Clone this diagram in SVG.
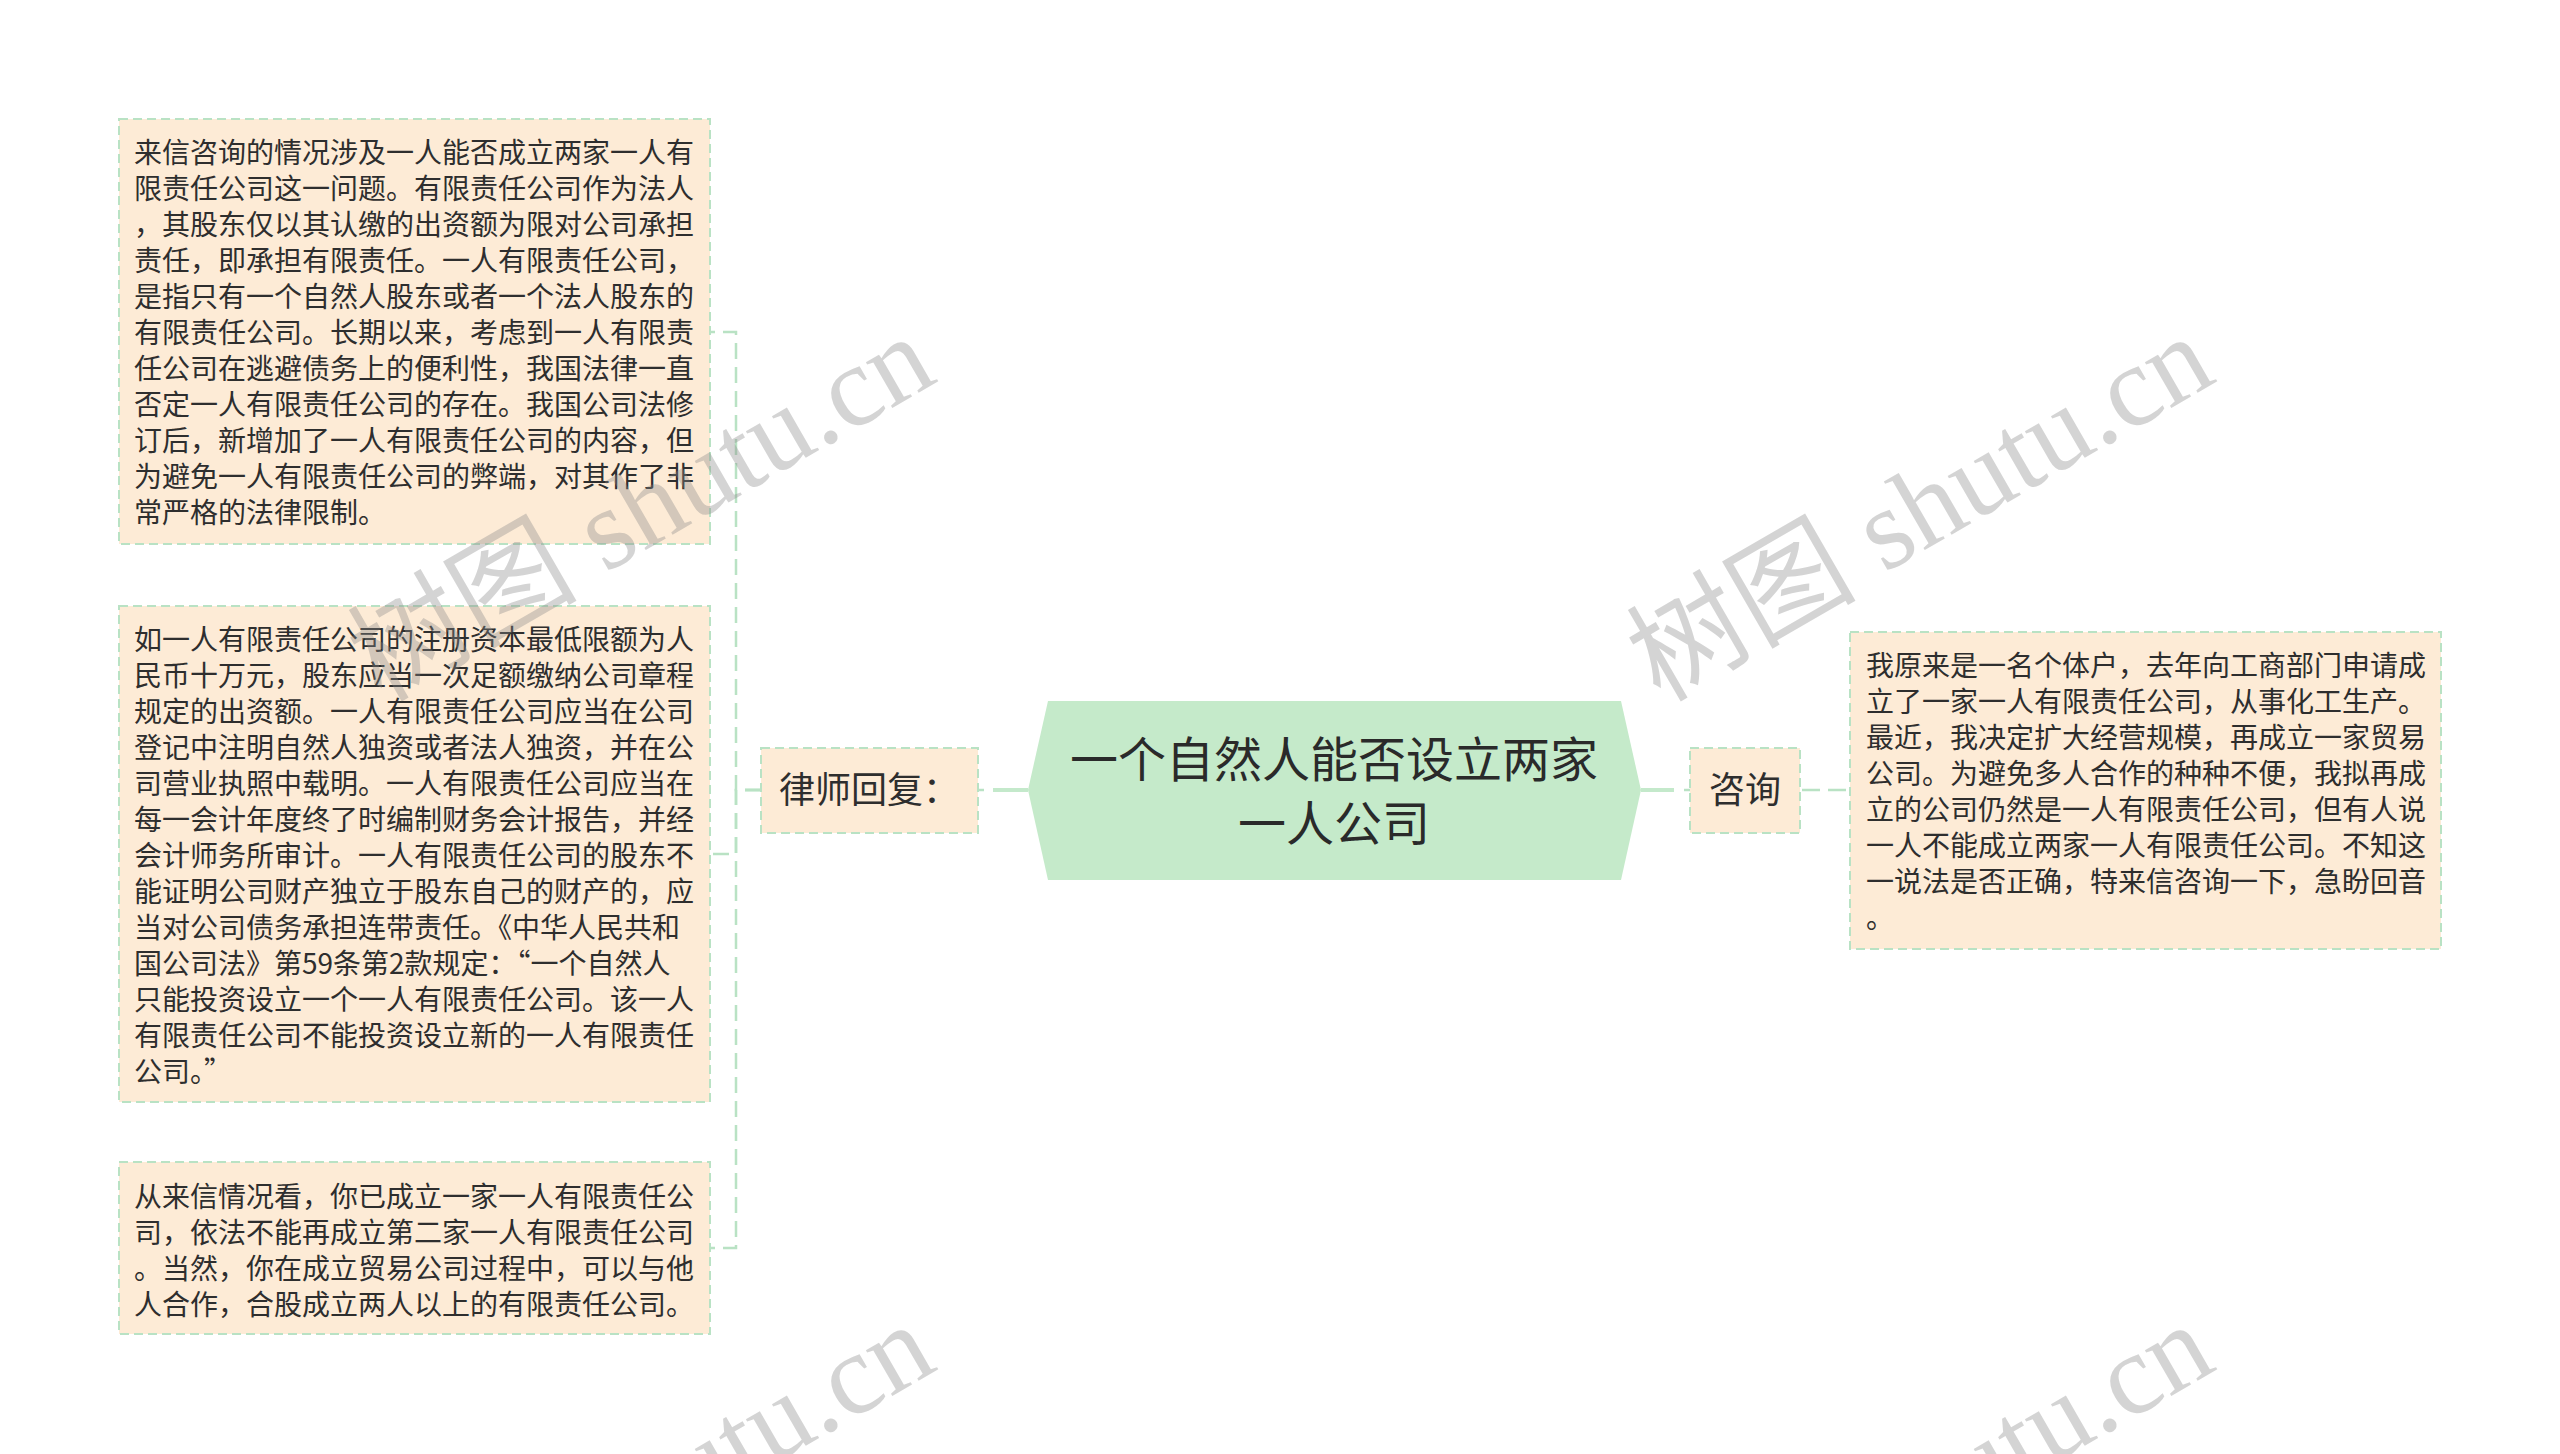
<svg xmlns="http://www.w3.org/2000/svg" width="2560" height="1454" viewBox="0 0 2560 1454">
<style>
.box{fill:#fdebd6;stroke:#b9e2c4;stroke-width:2;stroke-dasharray:9 5}
.txt{font-family:"Noto Sans CJK SC","Noto Sans",sans-serif;font-size:28px;fill:#2e2e2e}
.lbl{font-family:"Noto Sans CJK SC","Noto Sans",sans-serif;font-size:36px;fill:#2e2e2e}
.ctr{font-family:"Noto Sans CJK SC","Noto Sans",sans-serif;font-size:48px;fill:#2a2a2a;text-anchor:middle}
.dash{fill:none;stroke:#b9e2c4;stroke-width:2.5;stroke-dasharray:16 8}
.solid{fill:none;stroke:#c4e9cb;stroke-width:4}
.wm{font-family:"Liberation Serif","Noto Sans CJK SC",serif;font-size:115px;fill:#888;fill-opacity:0.36}
</style>
<rect width="2560" height="1454" fill="#ffffff"/>
<g id="connectors">
<path class="dash" d="M761 790 H736 V332 H710"/>
<path class="dash" d="M761 790 H736 V854 H710"/>
<path class="dash" d="M761 790 H736 V1248 H710"/>
<line class="solid" x1="1028" y1="790" x2="993" y2="790"/>
<line class="dash" x1="984" y1="790" x2="978" y2="790"/>
<line class="solid" x1="1641" y1="790" x2="1674" y2="790"/>
<line class="dash" x1="1684" y1="790" x2="1690" y2="790"/>
<path class="dash" d="M1800 790 H1850" style="stroke-dasharray:18 8;stroke-dashoffset:-2"/>
</g>
<g id="node-center">
<polygon points="1028,790 1048,701 1621,701 1641,790 1621,880 1048,880" fill="#c5eaca"/>
<text class="ctr" x="1334" y="777">一个自然人能否设立两家</text>
<text class="ctr" x="1334" y="841">一人公司</text>
</g>
<g id="node-lawyer">
<rect class="box" x="761" y="748" width="217" height="85"/>
<text class="lbl" x="779" y="803">律师回复：</text>
</g>
<g id="node-consult">
<rect class="box" x="1690" y="748" width="110" height="85"/>
<text class="lbl" x="1745" y="803" text-anchor="middle">咨询</text>
</g>
<g id="node-q">
<rect class="box" x="1850" y="632" width="591" height="317"/>
<text class="txt" x="1866" y="676">
<tspan x="1866" dy="0">我原来是一名个体户，去年向工商部门申请成</tspan>
<tspan x="1866" dy="36">立了一家一人有限责任公司，从事化工生产。</tspan>
<tspan x="1866" dy="36">最近，我决定扩大经营规模，再成立一家贸易</tspan>
<tspan x="1866" dy="36">公司。为避免多人合作的种种不便，我拟再成</tspan>
<tspan x="1866" dy="36">立的公司仍然是一人有限责任公司，但有人说</tspan>
<tspan x="1866" dy="36">一人不能成立两家一人有限责任公司。不知这</tspan>
<tspan x="1866" dy="36">一说法是否正确，特来信咨询一下，急盼回音</tspan>
<tspan x="1866" dy="36">。</tspan>
</text>
</g>
<g id="node-a1">
<rect class="box" x="119" y="119" width="591" height="425"/>
<text class="txt" x="134" y="163">
<tspan x="134" dy="0">来信咨询的情况涉及一人能否成立两家一人有</tspan>
<tspan x="134" dy="36">限责任公司这一问题。有限责任公司作为法人</tspan>
<tspan x="134" dy="36">，其股东仅以其认缴的出资额为限对公司承担</tspan>
<tspan x="134" dy="36">责任，即承担有限责任。一人有限责任公司，</tspan>
<tspan x="134" dy="36">是指只有一个自然人股东或者一个法人股东的</tspan>
<tspan x="134" dy="36">有限责任公司。长期以来，考虑到一人有限责</tspan>
<tspan x="134" dy="36">任公司在逃避债务上的便利性，我国法律一直</tspan>
<tspan x="134" dy="36">否定一人有限责任公司的存在。我国公司法修</tspan>
<tspan x="134" dy="36">订后，新增加了一人有限责任公司的内容，但</tspan>
<tspan x="134" dy="36">为避免一人有限责任公司的弊端，对其作了非</tspan>
<tspan x="134" dy="36">常严格的法律限制。</tspan>
</text>
</g>
<g id="node-a2">
<rect class="box" x="119" y="606" width="591" height="496"/>
<text class="txt" x="134" y="650">
<tspan x="134" dy="0">如一人有限责任公司的注册资本最低限额为人</tspan>
<tspan x="134" dy="36">民币十万元，股东应当一次足额缴纳公司章程</tspan>
<tspan x="134" dy="36">规定的出资额。一人有限责任公司应当在公司</tspan>
<tspan x="134" dy="36">登记中注明自然人独资或者法人独资，并在公</tspan>
<tspan x="134" dy="36">司营业执照中载明。一人有限责任公司应当在</tspan>
<tspan x="134" dy="36">每一会计年度终了时编制财务会计报告，并经</tspan>
<tspan x="134" dy="36">会计师务所审计。一人有限责任公司的股东不</tspan>
<tspan x="134" dy="36">能证明公司财产独立于股东自己的财产的，应</tspan>
<tspan x="134" dy="36">当对公司债务承担连带责任。《中华人民共和</tspan>
<tspan x="134" dy="36">国公司法》第59条第2款规定：“一个自然人</tspan>
<tspan x="134" dy="36">只能投资设立一个一人有限责任公司。该一人</tspan>
<tspan x="134" dy="36">有限责任公司不能投资设立新的一人有限责任</tspan>
<tspan x="134" dy="36">公司。”</tspan>
</text>
</g>
<g id="node-a3">
<rect class="box" x="119" y="1162" width="591" height="172"/>
<text class="txt" x="134" y="1207">
<tspan x="134" dy="0">从来信情况看，你已成立一家一人有限责任公</tspan>
<tspan x="134" dy="36">司，依法不能再成立第二家一人有限责任公司</tspan>
<tspan x="134" dy="36">。当然，你在成立贸易公司过程中，可以与他</tspan>
<tspan x="134" dy="36">人合作，合股成立两人以上的有限责任公司。</tspan>
</text>
</g>
<g id="watermarks">
<text class="wm" x="381" y="703" transform="rotate(-30 381 703)">树图 shutu.cn</text>
<text class="wm" x="1660" y="703" transform="rotate(-30 1660 703)">树图 shutu.cn</text>
<text class="wm" x="381" y="1691" transform="rotate(-30 381 1691)">树图 shutu.cn</text>
<text class="wm" x="1660" y="1691" transform="rotate(-30 1660 1691)">树图 shutu.cn</text>
</g>
</svg>
